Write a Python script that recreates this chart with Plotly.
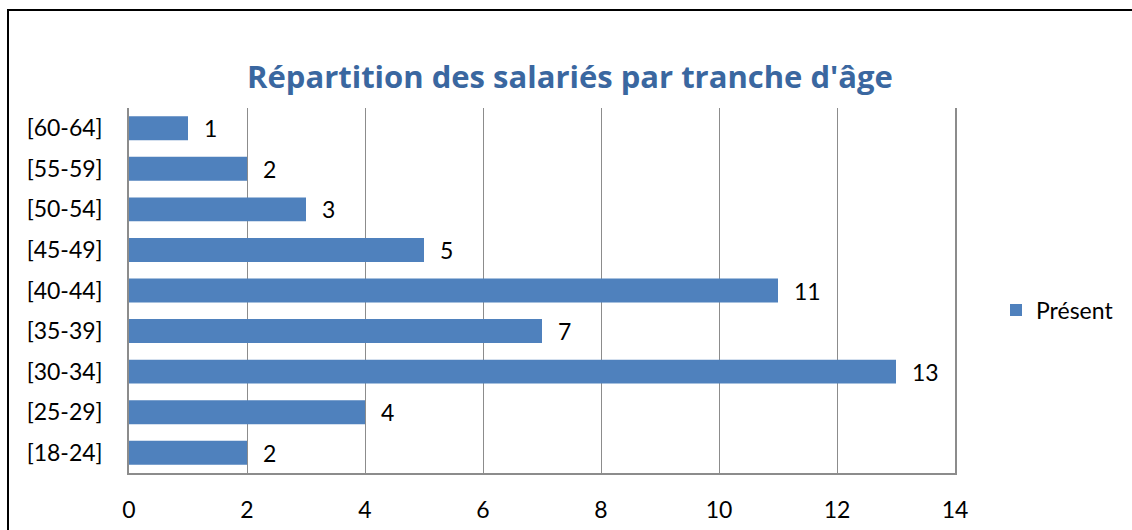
import plotly.graph_objects as go

categories = ["[18-24]", "[25-29]", "[30-34]", "[35-39]", "[40-44]",
              "[45-49]", "[50-54]", "[55-59]", "[60-64]"]
values = [2, 4, 13, 7, 11, 5, 3, 2, 1]
series_name = "Présent"
title_text = "Répartition des salariés par tranche d'âge"
x_ticks = [0, 2, 4, 6, 8, 10, 12, 14]

FONT = "Lato, 'Open Sans', sans-serif"
TFONT = "'Open Sans', Lato, sans-serif"
BAR = "#4F81BD"
GRID = "#8C8C8C"

fig = go.Figure()
fig.add_trace(go.Bar(
    x=values, y=categories, orientation="h", name=series_name,
    marker=dict(color=BAR, line=dict(width=0)),
    showlegend=True,
))

for v, c in zip(values, categories):
    fig.add_annotation(x=v, y=c, text=str(v), showarrow=False,
                       xanchor="left", yanchor="middle", xshift=14,
                       font=dict(family=FONT, size=23, color="black"))

fig.update_layout(
    width=1132, height=530,
    margin=dict(l=129, r=177, t=108, b=57, pad=0, autoexpand=False),
    paper_bgcolor="white", plot_bgcolor="white",
    bargap=0.41,
    font=dict(family=FONT, size=23, color="black"),
    title=dict(text=title_text, x=0.5035, xanchor="center",
               y=1 - 77 / 530, yanchor="middle",
               font=dict(family=TFONT, size=31, color="#3A67A0", weight="bold")),
    xaxis=dict(range=[0, 14], tickvals=x_ticks, showgrid=True,
               gridcolor=GRID, gridwidth=1, zeroline=False,
               showline=True, linecolor=GRID, linewidth=1.5,
               ticks="", ticklabelstandoff=16,
               tickfont=dict(family=FONT, size=23, color="black")),
    yaxis=dict(range=[-0.5, 8.5], type="category", categoryorder="array",
               categoryarray=categories, showgrid=False, zeroline=False,
               showline=True, mirror=True, linecolor=GRID, linewidth=1.5,
               ticks="", ticklabelstandoff=20,
               tickfont=dict(family=FONT, size=23, color="black")),
    legend=dict(x=(996 - 129) / 826, y=(473 - 310) / 365,
                xanchor="left", yanchor="middle",
                font=dict(family=FONT, size=23, color="black"),
                itemwidth=30, bgcolor="rgba(0,0,0,0)"),
    shapes=[dict(type="rect", xref="paper", yref="paper",
                 x0=(8 - 129) / 826, x1=(1140 - 129) / 826,
                 y0=(473 - 540) / 365, y1=1 + (108 - 10) / 365,
                 line=dict(color="black", width=2), fillcolor="rgba(0,0,0,0)",
                 layer="below")],
)

fig.write_html("out.html", config={"displayModeBar": False},
               post_script="document.body.style.margin='0';document.body.style.padding='0';")
